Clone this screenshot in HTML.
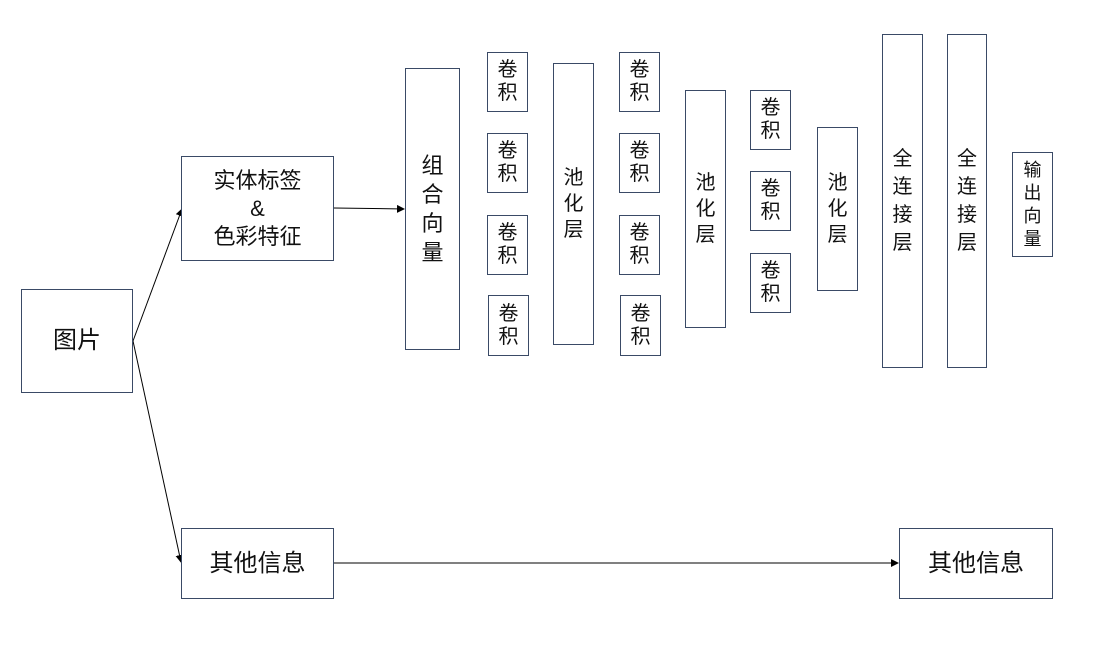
<!DOCTYPE html>
<html><head><meta charset="utf-8"><style>
html,body{margin:0;padding:0;background:#fff;}
body{width:1110px;height:659px;position:relative;overflow:hidden;font-family:"Liberation Sans","Noto Sans CJK SC",sans-serif;color:#111;}
.b{position:absolute;box-sizing:border-box;border:1px solid #3a4a66;background:#fff;display:flex;align-items:center;justify-content:center;text-align:center;}
.v{font-size:20px;line-height:26px;}
.n{font-size:20px;line-height:23px;}
.h{font-size:24px;line-height:28px;}
</style></head><body>
<svg width="1110" height="659" style="position:absolute;left:0;top:0">
<defs><marker id="a" markerWidth="8" markerHeight="8" refX="7" refY="4" orient="auto" markerUnits="userSpaceOnUse"><path d="M0,0 L8,4 L0,8 z" fill="#000"/></marker></defs>
<g stroke="#000" stroke-width="1" fill="none">
<line x1="133" y1="341" x2="182" y2="209" marker-end="url(#a)"/>
<line x1="133" y1="341" x2="181" y2="562" marker-end="url(#a)"/>
<line x1="334" y1="208" x2="404" y2="209" marker-end="url(#a)"/>
<line x1="334" y1="563" x2="898" y2="563" marker-end="url(#a)"/>
</g></svg>
<div class="b h" style="left:21px;top:289px;width:112px;height:104px">图片</div>
<div class="b h" style="left:181px;top:156px;width:153px;height:105px;font-size:22px;line-height:28px">实体标签<br>&amp;<br>色彩特征</div>
<div class="b h" style="left:181px;top:528px;width:153px;height:71px">其他信息</div>
<div class="b h" style="left:899px;top:528px;width:154px;height:71px">其他信息</div>
<div class="b v" style="left:405px;top:68px;width:55px;height:282px;font-size:22px;line-height:29px">组<br>合<br>向<br>量</div>
<div class="b n" style="left:487px;top:52px;width:41px;height:60px">卷<br>积</div>
<div class="b n" style="left:487px;top:133px;width:41px;height:60px">卷<br>积</div>
<div class="b n" style="left:487px;top:215px;width:41px;height:60px">卷<br>积</div>
<div class="b n" style="left:488px;top:295px;width:41px;height:61px">卷<br>积</div>
<div class="b v" style="left:553px;top:63px;width:41px;height:282px">池<br>化<br>层</div>
<div class="b n" style="left:619px;top:52px;width:41px;height:60px">卷<br>积</div>
<div class="b n" style="left:619px;top:133px;width:41px;height:60px">卷<br>积</div>
<div class="b n" style="left:619px;top:215px;width:41px;height:60px">卷<br>积</div>
<div class="b n" style="left:620px;top:295px;width:41px;height:61px">卷<br>积</div>
<div class="b v" style="left:685px;top:90px;width:41px;height:238px">池<br>化<br>层</div>
<div class="b n" style="left:750px;top:90px;width:41px;height:60px">卷<br>积</div>
<div class="b n" style="left:750px;top:171px;width:41px;height:60px">卷<br>积</div>
<div class="b n" style="left:750px;top:253px;width:41px;height:60px">卷<br>积</div>
<div class="b v" style="left:817px;top:127px;width:41px;height:164px">池<br>化<br>层</div>
<div class="b n" style="left:882px;top:34px;width:41px;height:334px;line-height:28px">全<br>连<br>接<br>层</div>
<div class="b n" style="left:947px;top:34px;width:40px;height:334px;line-height:28px">全<br>连<br>接<br>层</div>
<div class="b" style="left:1012px;top:152px;width:41px;height:105px;font-size:18px;line-height:23px">输<br>出<br>向<br>量</div>
</body></html>
